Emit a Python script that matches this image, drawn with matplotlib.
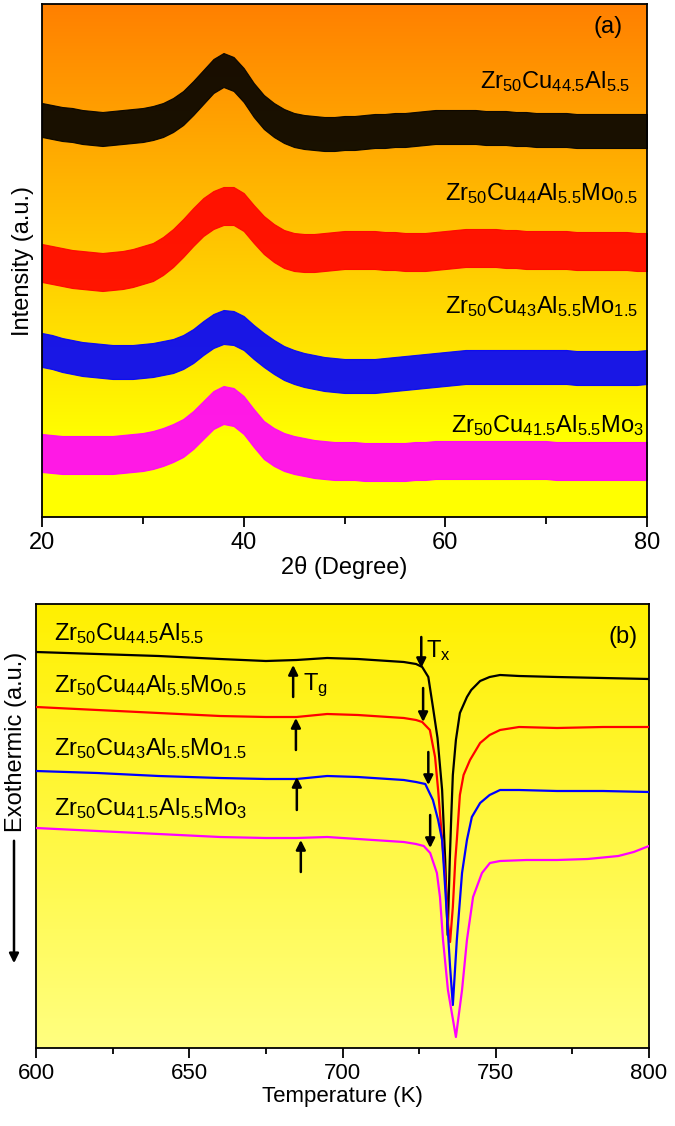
import numpy as np
import matplotlib
matplotlib.use("Agg")
import matplotlib.pyplot as plt

plt.rcParams['font.family'] = ['Liberation Sans', 'DejaVu Sans']
plt.rcParams['mathtext.fontset'] = 'custom'
plt.rcParams['mathtext.rm'] = 'Liberation Sans'
plt.rcParams['mathtext.it'] = 'Liberation Sans:italic'

# ---- XRD data (a), 2theta in degree, intensity in a.u. (curves stacked) ----
two_theta = np.arange(20, 81, 1)

xrd_mo0 = [397, 395, 393, 392, 390, 389, 388, 389, 390, 391, 392, 394, 397, 402, 409, 419,
           430, 441, 447, 443, 432, 417, 405, 397, 391, 387, 385, 384, 383, 383, 384, 384,
           385, 386, 386, 387, 387, 388, 389, 390, 390, 390, 390, 390, 389, 389, 389, 388,
           388, 387, 387, 387, 387, 386, 386, 386, 386, 386, 386, 386, 386]
xrd_mo05 = [254, 252, 250, 248, 247, 246, 245, 246, 247, 249, 252, 255, 261, 269, 279, 290,
            300, 307, 311, 311, 305, 293, 282, 274, 268, 265, 264, 264, 265, 266, 267, 267,
            267, 267, 266, 266, 265, 265, 265, 266, 267, 268, 269, 269, 269, 269, 268, 268,
            267, 267, 267, 267, 267, 266, 266, 266, 266, 266, 266, 265, 265]
xrd_mo15 = [167, 165, 162, 160, 158, 157, 156, 155, 155, 155, 156, 157, 159, 161, 165, 171,
            179, 186, 190, 189, 184, 175, 167, 160, 154, 150, 147, 145, 143, 142, 141, 141,
            141, 141, 142, 143, 144, 145, 146, 147, 148, 149, 150, 150, 150, 150, 150, 150,
            150, 150, 150, 150, 150, 149, 149, 149, 149, 149, 149, 149, 150]
xrd_mo3 = [64, 63, 62, 62, 62, 62, 62, 62, 63, 64, 65, 67, 70, 74, 79, 87,
           97, 107, 112, 110, 102, 89, 77, 70, 65, 62, 60, 58, 57, 56, 56, 56,
           55, 55, 55, 55, 55, 56, 56, 57, 57, 57, 57, 57, 57, 57, 57, 57,
           57, 57, 57, 56, 56, 56, 56, 56, 56, 56, 56, 56, 56]
# half width of the noise band of each pattern
xrd_noise = [17, 19, 17, 19]

# ---- DSC data (b) ----
t_mo0 = [600, 620, 640, 660, 675, 685, 695, 705, 715, 720, 724, 726, 728, 729.5, 731, 732.5,
         733.5, 734.3, 735, 735.5, 736, 737, 738.3, 740.6, 742, 744.9, 748, 751.4, 757.6,
         770, 785, 800]
dsc_mo0 = [396, 394, 392, 389, 387, 388, 390, 389, 387, 386, 384, 381, 371, 341, 310, 258,
           188, 113, 188, 233, 273, 308, 335, 351, 358, 367, 371, 373, 372, 371, 370, 369]

t_mo05 = [600, 620, 640, 660, 675, 685, 695, 705, 715, 720, 724, 726, 728.5, 730.2, 731.2,
          732.5, 733.4, 734.4, 735.1, 736, 736.8, 737.3, 738.3, 739.5, 741.6, 744.9, 748,
          751.4, 757.6, 770, 785, 800]
dsc_mo05 = [341, 338, 335, 332, 331, 331, 334, 333, 331, 330, 328, 326, 318, 291, 258, 208,
            175, 125, 106, 141, 188, 208, 253, 273, 288, 305, 313, 318, 321, 320, 321, 321]

t_mo15 = [600, 620, 640, 660, 675, 685, 695, 705, 715, 720, 724, 727, 729.5, 731.2, 732.5,
          733.9, 735.1, 736, 737.3, 739, 740.6, 742.2, 744.9, 748, 751.4, 757.6, 770, 785, 800]
dsc_mo15 = [277, 275, 272, 270, 269, 269, 272, 271, 269, 268, 266, 264, 248, 228, 208,
            141, 81, 43, 108, 175, 208, 231, 245, 253, 258, 258, 257, 257, 256]

t_mo3 = [600, 620, 640, 660, 675, 685, 695, 705, 715, 720, 724, 726.5, 728.6, 730.8, 731.8,
         732.8, 734.4, 737, 739, 740.6, 742.6, 745.5, 748.1, 751.4, 760, 770, 780, 790, 795, 800]
dsc_mo3 = [220, 217, 214, 211, 210, 210, 211, 209, 207, 206, 204, 202, 195, 175, 151,
           108, 58, 11, 58, 108, 151, 175, 185, 187, 188, 188, 189, 192, 196, 202]

# Tg / Tx markers: (temperature, tail, tip)
tg_marks = [(683.9, 351, 383), (684.8, 298, 330), (685.1, 238, 271), (686.4, 176, 208)]
tx_marks = [(725.7, 411, 380), (726.3, 360, 326), (728.0, 296, 263), (728.6, 233, 200)]

labels = [r'Zr$_{50}$Cu$_{44.5}$Al$_{5.5}$',
          r'Zr$_{50}$Cu$_{44}$Al$_{5.5}$Mo$_{0.5}$',
          r'Zr$_{50}$Cu$_{43}$Al$_{5.5}$Mo$_{1.5}$',
          r'Zr$_{50}$Cu$_{41.5}$Al$_{5.5}$Mo$_{3}$']
colors = ['black', 'red', 'blue', 'magenta']


def gradient_bg(ax, top, bottom, stop=1.0):
    n = 256
    f = np.clip(np.linspace(0, 1, n) / stop, 0, 1)[:, None]
    top = np.array(top) / 255.0
    bottom = np.array(bottom) / 255.0
    img = top[None, None, :] * (1 - f[:, :, None]) + bottom[None, None, :] * f[:, :, None]
    ax.imshow(img, extent=[0, 1, 0, 1], transform=ax.transAxes, aspect='auto',
              zorder=0, interpolation='bilinear')


fig = plt.figure(figsize=(6.75, 11.26), dpi=100)

# ---------------- panel (a) ----------------
ax1 = fig.add_axes([42 / 675, 1 - 517 / 1126, 605 / 675, 513 / 1126])
gradient_bg(ax1, (255, 128, 0), (255, 255, 0), stop=0.85)

xrd = [xrd_mo0, xrd_mo05, xrd_mo15, xrd_mo3]
for y, amp, c in zip(xrd, xrd_noise, colors):
    y = np.array(y, dtype=float)
    ax1.fill_between(two_theta, y - amp, y + amp, color=c, alpha=0.9, lw=0.8, zorder=2)

ax1.set_xlim(20, 80)
ax1.set_ylim(0, 513)
ax1.set_xticks([20, 40, 60, 80])
ax1.set_xticks([30, 50, 70], minor=True)
ax1.set_yticks([])
ax1.tick_params(axis='x', which='major', direction='out', length=7, width=1.3, labelsize=17)
ax1.tick_params(axis='x', which='minor', direction='out', length=5, width=1.3)
ax1.set_xlabel(u'2\u03b8 (Degree)', fontsize=17, labelpad=2)
ax1.set_ylabel('Intensity (a.u.)', fontsize=17, labelpad=6)
for s in ax1.spines.values():
    s.set_linewidth(1.3)

lab_pos_a = [(78.3, 429), (79.1, 317), (79.1, 204), (79.7, 85)]
for (x, y), t in zip(lab_pos_a, labels):
    ax1.text(x, y, t, fontsize=17, ha='right', va='baseline', zorder=5)
ax1.text(76.1, 490, '(a)', fontsize=17, ha='center', va='center', zorder=5)

# ---------------- panel (b) ----------------
ax2 = fig.add_axes([36 / 675, 1 - 1048 / 1126, 613 / 675, 444 / 1126])
gradient_bg(ax2, (255, 240, 0), (255, 255, 128))

dsc = [(t_mo0, dsc_mo0), (t_mo05, dsc_mo05), (t_mo15, dsc_mo15), (t_mo3, dsc_mo3)]
for (t, h), c in zip(dsc, colors):
    ax2.plot(t, h, color=c, lw=1.6, zorder=3, solid_joinstyle='round')

arrow_kw = dict(arrowstyle='-|>', color='black', lw=1.8, mutation_scale=14,
                shrinkA=0, shrinkB=0)
for t, tail, tip in tg_marks + tx_marks:
    ax2.annotate('', xy=(t, tip), xytext=(t, tail), arrowprops=arrow_kw, zorder=4)

ax2.text(687.0, 358, r'T$_{\mathrm{g}}$', fontsize=17, ha='left', va='baseline')
ax2.text(727.2, 391, r'T$_{\mathrm{x}}$', fontsize=17, ha='left', va='baseline')

lab_pos_b = [408, 356, 293, 233]
for y, t in zip(lab_pos_b, labels):
    ax2.text(606, y, t, fontsize=17, ha='left', va='baseline', zorder=5)
ax2.text(791.5, 405, '(b)', fontsize=17, ha='center', va='baseline', zorder=5)

ax2.set_xlim(600, 800)
ax2.set_ylim(0, 444)
ax2.set_xticks([600, 650, 700, 750, 800])
ax2.set_xticks([625, 675, 725, 775], minor=True)
ax2.set_yticks([])
ax2.tick_params(axis='x', which='major', direction='out', length=7, width=1.3, labelsize=16)
ax2.tick_params(axis='x', which='minor', direction='out', length=4.5, width=1.3)
ax2.set_xlabel('Temperature (K)', fontsize=16, labelpad=2)
for s in ax2.spines.values():
    s.set_linewidth(1.3)

# y label with downward arrow (exothermic direction)
fig.text(16 / 675, 1 - 742 / 1126, 'Exothermic (a.u.)', fontsize=17, rotation=90,
         ha='center', va='center')
fig.patches.append(matplotlib.patches.FancyArrowPatch(
    (14 / 675, 1 - 838 / 1126), (14 / 675, 1 - 966 / 1126), transform=fig.transFigure,
    arrowstyle='-|>', mutation_scale=14, lw=1.8, color='black'))

fig.savefig('out.png', dpi=100)
